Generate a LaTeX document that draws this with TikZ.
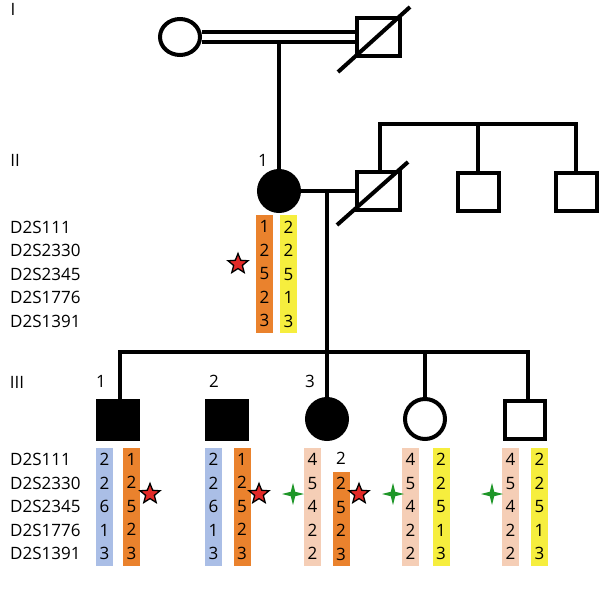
\documentclass[tikz,border=0pt]{standalone}
\usepackage{fontspec}
\setmainfont{Open Sans}
\usetikzlibrary{shapes.geometric}
\definecolor{orangeA}{RGB}{234,130,45}
\definecolor{yellowA}{RGB}{246,238,62}
\definecolor{blueA}{RGB}{170,190,230}
\definecolor{peachA}{RGB}{245,206,182}
\definecolor{redA}{RGB}{226,42,40}
\definecolor{greenA}{RGB}{30,150,40}
\newcommand{\rowfont}{\fontsize{17}{23.5}\selectfont}

\begin{document}
\begin{tikzpicture}[x=1pt, y=-1pt]
            \tikzset{male/.style = {draw, line width=4pt, minimum width=40pt, minimum height=38pt, inner sep=0},
                     female/.style = {draw, ellipse, line width=4pt, minimum width=40pt, minimum height=40pt, inner sep=0},
                     affected/.style = {fill=black},
                     line/.style = {line width=4pt},
                     bar/.style = {minimum width=17pt, inner sep=0, align=center, font=\rowfont},
                     markers/.style = {anchor=west, inner sep=0, align=left, font=\rowfont},
                     lbl/.style = {inner sep=0, font=\fontsize{17}{20}\selectfont},
                     redstar/.style = {star, star points=5, star point ratio=2.3, minimum size=21pt, inner sep=0, fill=redA, draw=black, line width=1.3pt},
                     greenstar/.style = {star, star points=4, star point ratio=3.5, minimum size=22pt, inner sep=0, fill=greenA}}
            \useasboundingbox (0,0) rectangle (600,589);
            % generation I
            \node[lbl] (gI) at (13,9) {I};
            \node[female, minimum height=36pt] (i1) at (180,37) {};
            \node[male, minimum width=43pt] (i2) at (378,37) {};
            \draw[line, double, double distance=6pt] (i1) -- (i2);
            \draw[line] ([shift={(-40,35)}]i2.center) -- ([shift={(32,-30)}]i2.center);
            \coordinate (mar1) at (279,41);
            
            % generation II
            \node[lbl] (gII) at (15,160) {II};
            \node[female, affected] (ii1) at (279,191) {};
            \node[lbl] (n21) at (263,160) {1};
            \node[male, minimum width=43pt] (ii2) at (378,191) {};
            \node[male, minimum width=41pt] (ii3) at (478,192) {};
            \node[male, minimum width=41pt] (ii4) at (576,192) {};
            \draw[line] (mar1) -- (ii1);
            \draw[line] (ii1) -- (ii2);
            \draw[line] ([shift={(-41,34)}]ii2.center) -- ([shift={(30,-29)}]ii2.center);
            \coordinate (sib2) at (478,124);
            \draw[line] (ii2.north -| 380,0) |- (sib2) -| (ii4);
            \draw[line] (sib2) -- (ii3);
            
            \node[markers] (m2) at (10,274) {D2S111\\D2S2330\\D2S2345\\D2S1776\\D2S1391};
            \node[bar, fill=orangeA, minimum height=118pt] (b21) at (264.5,274) {1\\2\\5\\2\\3};
            \node[bar, fill=yellowA, minimum height=118pt] (b22) at (288.5,274) {2\\2\\5\\1\\3};
            \node[redstar] (s0) at (238,264) {};
            
            % generation III
            \node[lbl] (gIII) at (17,382) {III};
            \coordinate (mar2) at (327,192);
            \coordinate (sib3) at (327,352);
            \node[male, affected] (iii1) at (118,420) {};
            \node[male, affected] (iii2) at (227,420) {};
            \node[female, affected] (iii3) at (327,419) {};
            \node[female] (iii4) at (425,419) {};
            \node[male] (iii5) at (525,420) {};
            \node[lbl] (n31) at (101,381) {1};
            \node[lbl] (n32) at (214,381) {2};
            \node[lbl] (n33) at (310,381) {3};
            \draw[line] (mar2) -- (iii3);
            \draw[line] (iii1.north -| 120,0) |- (sib3) -| (iii5.north -| 528,0);
            \draw[line] (iii2.north -| 228,0) -- (iii2.north -| 228,0 |- sib3);
            \draw[line] (iii4) -- (iii4 |- sib3);
            
            \node[markers] (m3) at (10,506.5) {D2S111\\D2S2330\\D2S2345\\D2S1776\\D2S1391};
            \node[bar, fill=blueA, minimum height=118pt] (b31) at (104.5,506.5) {2\\2\\6\\1\\3};
            \node[bar, fill=orangeA, minimum height=118pt] (b32) at (131.5,506.5) {1\\2\\5\\2\\3};
            \node[bar, fill=blueA, minimum height=118pt] (b33) at (213.5,506.5) {2\\2\\6\\1\\3};
            \node[bar, fill=orangeA, minimum height=118pt] (b34) at (242,506.5) {1\\2\\5\\2\\3};
            \node[bar, fill=peachA, minimum height=118pt] (b35) at (312.5,506.5) {4\\5\\4\\2\\2};
            \node[lbl] (n35) at (341,458) {2};
            \node[bar, fill=orangeA, minimum height=94pt] (b36) at (341,519) {2\\5\\2\\3};
            \node[bar, fill=peachA, minimum height=118pt] (b37) at (410.5,506.5) {4\\5\\4\\2\\2};
            \node[bar, fill=yellowA, minimum height=118pt] (b38) at (441,506.5) {2\\2\\5\\1\\3};
            \node[bar, fill=peachA, minimum height=118pt] (b39) at (510.5,506.5) {4\\5\\4\\2\\2};
            \node[bar, fill=yellowA, minimum height=118pt] (b310) at (539.5,506.5) {2\\2\\5\\1\\3};
            \node[redstar] (s1) at (150,494) {};
            \node[redstar] (s2) at (259,494) {};
            \node[redstar] (s3) at (359,494) {};
            \node[greenstar] (g1) at (293,494) {};
            \node[greenstar] (g2) at (393,494) {};
            \node[greenstar] (g3) at (492,494) {};
        \end{tikzpicture}
\end{document}
